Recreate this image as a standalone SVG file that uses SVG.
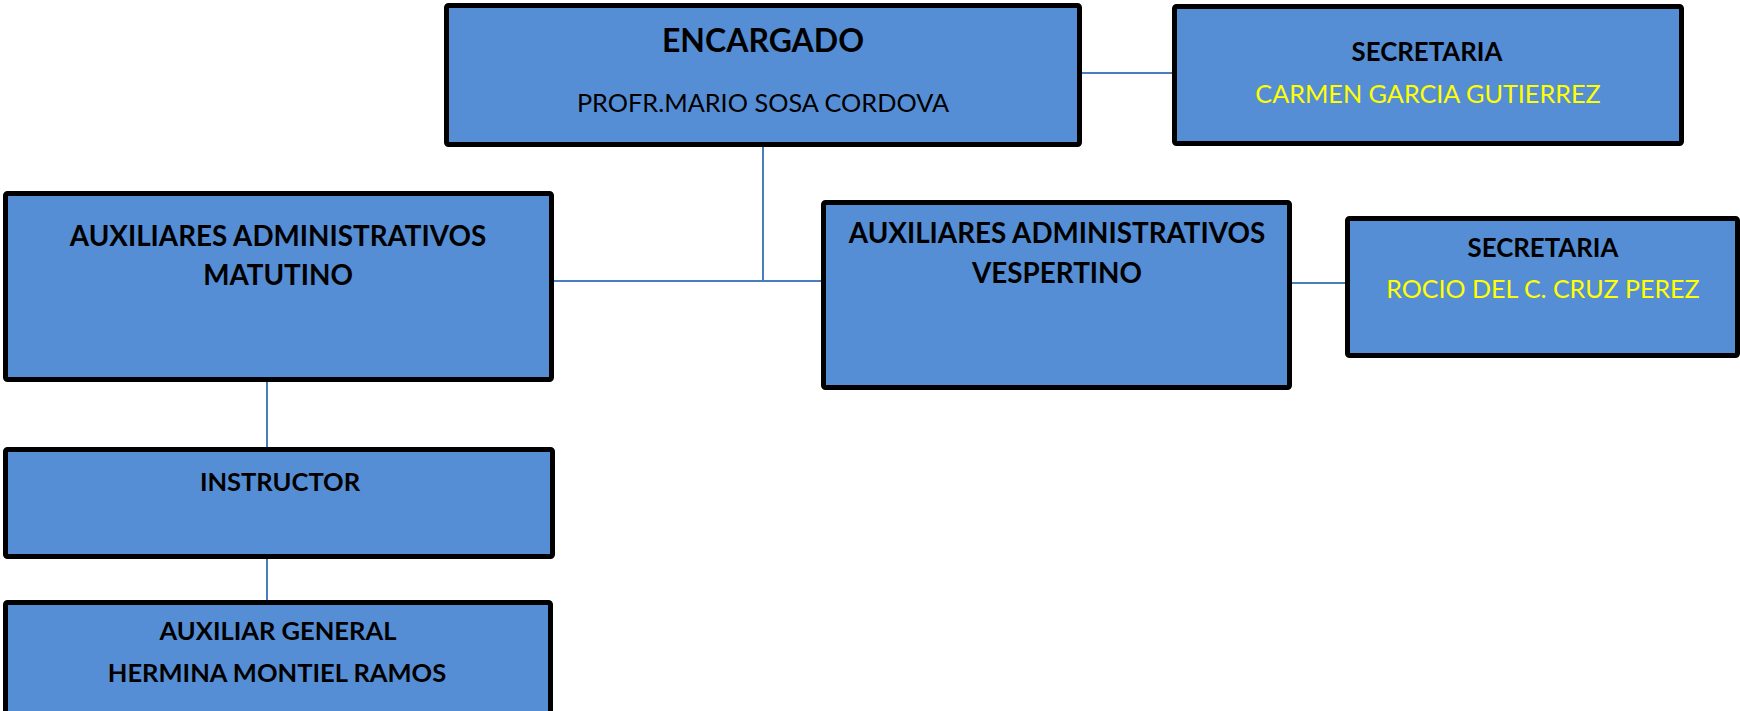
<svg xmlns="http://www.w3.org/2000/svg" width="1740" height="711" viewBox="0 0 1740 711">
<style>
.box{fill:#558ed5;stroke:#000;stroke-width:5;}
.c{stroke:#4a7ebb;stroke-width:2;fill:none;}
text{font-family:Lato,"Liberation Sans",sans-serif;text-anchor:middle;}
.b{font-weight:bold;fill:#000;font-size:25.5px;}
.h{font-size:27.8px;}
.r{fill:#000;font-size:25.3px;}
.y{fill:#ffff00;font-size:25.2px;}
</style>
<rect width="1740" height="711" fill="#fff"/>
<g id="connectors">
<line class="c" x1="1082" y1="73" x2="1172" y2="73"/>
<line class="c" x1="763" y1="147" x2="763" y2="281"/>
<line class="c" x1="554" y1="281" x2="821" y2="281"/>
<line class="c" x1="1292" y1="283" x2="1345" y2="283"/>
<line class="c" x1="267" y1="382" x2="267" y2="447"/>
<line class="c" x1="267" y1="559" x2="267" y2="600"/>
</g>
<g id="encargado">
<rect class="box" x="446.5" y="5.5" width="633" height="139" rx="2"/>
<text class="b" x="763" y="52" style="font-size:32px">ENCARGADO</text>
<text class="r" x="763" y="112">PROFR.MARIO SOSA CORDOVA</text>
</g>
<g id="secretaria1">
<rect class="box" x="1174.5" y="6.5" width="507" height="137" rx="2"/>
<text class="b" x="1427" y="61" style="font-size:25.8px">SECRETARIA</text>
<text class="y" x="1428" y="103">CARMEN GARCIA GUTIERREZ</text>
</g>
<g id="matutino">
<rect class="box" x="5.5" y="193.5" width="546" height="186" rx="2"/>
<text class="b h" x="278" y="246">AUXILIARES ADMINISTRATIVOS</text>
<text class="b h" x="278" y="285">MATUTINO</text>
</g>
<g id="vespertino">
<rect class="box" x="823.5" y="202.5" width="466" height="185" rx="2"/>
<text class="b h" x="1057" y="243">AUXILIARES ADMINISTRATIVOS</text>
<text class="b h" x="1057" y="283">VESPERTINO</text>
</g>
<g id="secretaria2">
<rect class="box" x="1347.5" y="218.5" width="390" height="137" rx="2"/>
<text class="b" x="1543" y="257" style="font-size:25.8px">SECRETARIA</text>
<text class="y" x="1543" y="298" style="font-size:25px">ROCIO DEL C. CRUZ PEREZ</text>
</g>
<g id="instructor">
<rect class="box" x="5.5" y="449.5" width="547" height="107" rx="2"/>
<text class="b" x="280" y="491">INSTRUCTOR</text>
</g>
<g id="auxiliar-general">
<rect class="box" x="5.5" y="602.5" width="545" height="120" rx="2"/>
<text class="b" x="278" y="640">AUXILIAR GENERAL</text>
<text class="b" x="277" y="682">HERMINA MONTIEL RAMOS</text>
</g>
</svg>
